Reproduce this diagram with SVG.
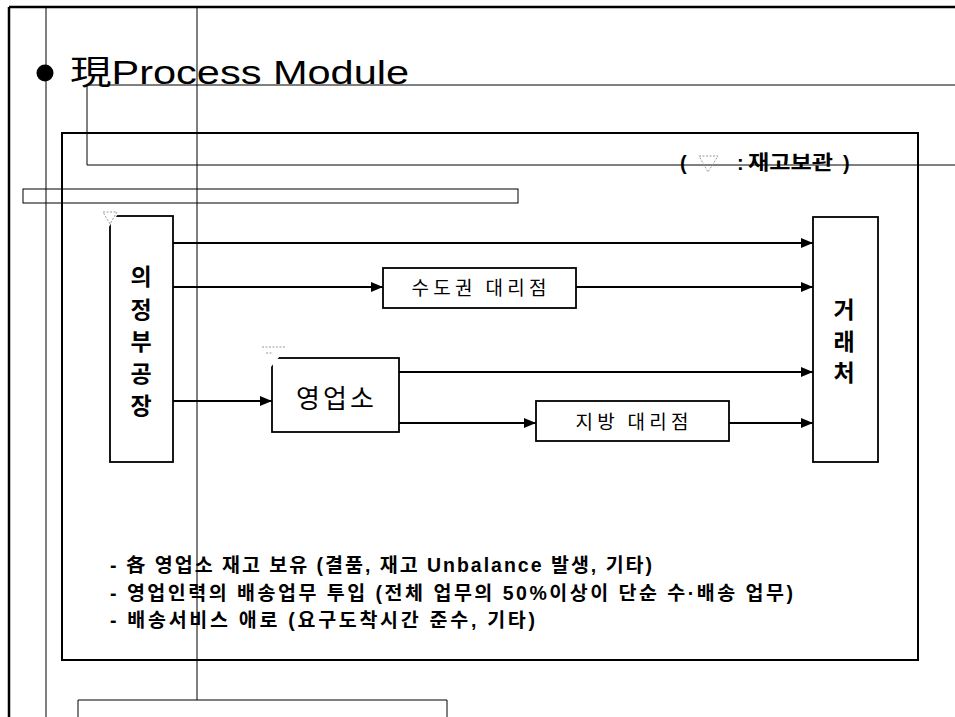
<svg xmlns="http://www.w3.org/2000/svg" width="955" height="717" viewBox="0 0 955 717">
  <defs>
    <marker id="arrow" markerWidth="12" markerHeight="10" refX="12" refY="5" orient="auto" markerUnits="userSpaceOnUse">
      <path d="M0,0 L12,5 L0,10 Z" fill="#000"/>
    </marker>
    <style>
      .frame { fill: none; stroke: #000; stroke-width: 1; }
      .heavy { fill: none; stroke: #000; stroke-width: 2.5; }
      .box { fill: #fff; stroke: #000; stroke-width: 1.8; }
      .edge { fill: none; stroke: #000; stroke-width: 2; marker-end: url(#arrow); }
      .stock { fill: none; stroke: #999; stroke-width: 1; stroke-dasharray: 2 1.5; }
      .lbl { font-family: "Liberation Sans", "Noto Sans CJK KR", sans-serif; fill: #000; }
      .kr { font-family: "Noto Sans CJK KR", "Liberation Sans", sans-serif; fill: #000; }
      .note { font-family: "Liberation Sans", "Noto Sans CJK KR", sans-serif; font-weight: bold; fill: #000; }
    </style>
  </defs>

  <rect width="955" height="717" fill="#fff"/>

  <!-- page frame and guide lines -->
  <g id="frame">
    <line class="heavy" x1="9" y1="7" x2="955" y2="7"/>
    <line class="heavy" x1="9" y1="7" x2="9" y2="717"/>
    <line class="frame" x1="46" y1="7" x2="46" y2="717"/>
    <line class="frame" x1="197" y1="7" x2="197" y2="700"/>
    <line class="frame" x1="86" y1="85" x2="955" y2="85"/>
    <polyline class="frame" points="87,85 87,165 955,165"/>
    <rect class="frame" x="23" y="189" width="495" height="14" stroke-width="1.3"/>
    <polyline class="frame" points="78,717 78,700 447,700 447,717"/>
  </g>

  <!-- title -->
  <g id="title">
    <circle cx="45" cy="73" r="8.5" fill="#000"/>
    <text class="lbl" x="70" y="84" font-size="33" textLength="339" lengthAdjust="spacingAndGlyphs">現Process Module</text>
  </g>

  <!-- main panel -->
  <rect id="panel" x="62" y="133" width="856" height="527" fill="none" stroke="#000" stroke-width="2"/>

  <!-- legend -->
  <g id="legend" class="note" font-size="20">
    <text x="680" y="170">(</text>
    <path class="stock" d="M699,156 L718,156 L708,172 Z"/>
    <text x="737" y="170">:</text>
    <text x="748" y="170" textLength="85" lengthAdjust="spacingAndGlyphs">재고보관</text>
    <text x="843" y="170">)</text>
  </g>

  <!-- connectors -->
  <g id="connectors">
    <line class="edge" x1="173" y1="243" x2="813" y2="243" stroke-width="2.5"/>
    <line class="edge" x1="173" y1="287" x2="383" y2="287"/>
    <line class="edge" x1="576" y1="287" x2="813" y2="287"/>
    <line class="edge" x1="173" y1="401" x2="272" y2="401" stroke-width="2.5"/>
    <line class="edge" x1="399" y1="372" x2="813" y2="372"/>
    <line class="edge" x1="399" y1="423" x2="536" y2="423"/>
    <line class="edge" x1="729" y1="423" x2="813" y2="423"/>
  </g>

  <!-- plant -->
  <g id="node-plant">
    <rect class="box" x="110" y="216" width="63" height="246"/>
    <path d="M108,214 L118,214 L108,228 Z" fill="#fff" stroke="none"/>
    <path class="stock" d="M103,212 L117,212 L110,224 Z"/>
    <g class="kr" font-size="23" font-weight="bold" text-anchor="middle">
      <text x="141" y="285">의</text>
      <text x="141" y="318">정</text>
      <text x="141" y="350">부</text>
      <text x="141" y="382">공</text>
      <text x="141" y="414">장</text>
    </g>
  </g>

  <!-- metro agency -->
  <g id="node-metro">
    <rect class="box" x="383" y="268" width="193" height="40"/>
    <text class="kr" x="479" y="295" font-size="19" text-anchor="middle" textLength="135" lengthAdjust="spacing">수도권 대리점</text>
  </g>

  <!-- sales office -->
  <g id="node-office">
    <rect class="box" x="272" y="358" width="127" height="74"/>
    <path d="M270,356 L280,356 L270,368 Z" fill="#fff" stroke="none"/>
    <path class="stock" d="M262,347 L285,347 M266,353 L272,353"/>
    <text class="kr" x="335" y="408" font-size="26" text-anchor="middle" textLength="78" lengthAdjust="spacing">영업소</text>
  </g>

  <!-- regional agency -->
  <g id="node-regional">
    <rect class="box" x="536" y="401" width="193" height="40"/>
    <text class="kr" x="632" y="429" font-size="19" text-anchor="middle" textLength="113" lengthAdjust="spacing">지방 대리점</text>
  </g>

  <!-- customers -->
  <g id="node-customer">
    <rect class="box" x="813" y="217" width="65" height="245"/>
    <g class="kr" font-size="23" font-weight="bold" text-anchor="middle">
      <text x="844" y="318">거</text>
      <text x="844" y="350">래</text>
      <text x="844" y="381">처</text>
    </g>
  </g>

  <!-- issue notes -->
  <g id="notes" class="note" font-size="19.5">
    <text x="110" y="572" textLength="542" lengthAdjust="spacing">- 各 영업소 재고 보유 (결품, 재고 Unbalance 발생, 기타)</text>
    <text x="110" y="600" textLength="683" lengthAdjust="spacing">- 영업인력의 배송업무 투입 (전체 업무의 50%이상이 단순 수·배송 업무)</text>
    <text x="110" y="627" textLength="425" lengthAdjust="spacing">- 배송서비스 애로 (요구도착시간 준수, 기타)</text>
  </g>
</svg>
